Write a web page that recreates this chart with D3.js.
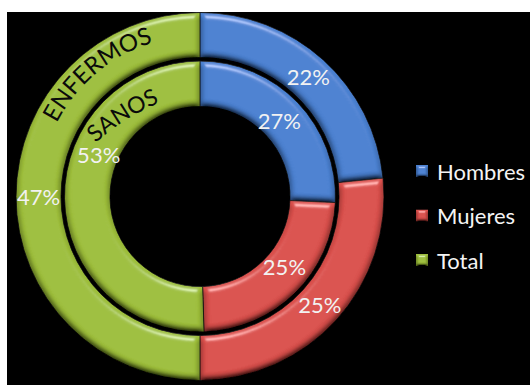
<!DOCTYPE html>
<html>
<head>
<meta charset="utf-8">
<script src="https://cdn.jsdelivr.net/npm/d3@7"></script>
<style>
  html, body { margin: 0; padding: 0; background: #fff; }
  svg { display: block; }
</style>
</head>
<body>
<svg id="chart" width="530" height="385"></svg>
<script>
// Categories and the two rings (outer: ENFERMOS, inner: SANOS)
const categories = ["Hombres", "Mujeres", "Total"];
const enfermos = [22, 25, 47];
const sanos = [27, 25, 53];
const ringNames = ["ENFERMOS", "SANOS"];
const colors = ["#4a80d0", "#d94f4b", "#9dbe3a"];

const W = 530, H = 385;
const cx = 200, cy = 196.5;
const font = "Lato, 'Open Sans', sans-serif";

const svg = d3.select("#chart");

// Bevel lighting (light from above) for the ring segments and legend keys
const defs = svg.append("defs");
function bevel(id, blur, scale) {
  const f = defs.append("filter").attr("id", id)
    .attr("x", "-10%").attr("y", "-10%").attr("width", "120%").attr("height", "120%");
  f.append("feGaussianBlur").attr("in", "SourceAlpha").attr("stdDeviation", blur).attr("result", "blur");
  const diff = f.append("feDiffuseLighting").attr("in", "blur")
    .attr("surfaceScale", scale).attr("diffuseConstant", 1 / Math.sin(55 * Math.PI / 180))
    .attr("lighting-color", "#ffffff").attr("result", "diff");
  diff.append("feDistantLight").attr("azimuth", 270).attr("elevation", 55);
  const spec = f.append("feSpecularLighting").attr("in", "blur")
    .attr("surfaceScale", scale).attr("specularConstant", 0.8).attr("specularExponent", 30)
    .attr("lighting-color", "#ffffff").attr("result", "spec");
  spec.append("feDistantLight").attr("azimuth", 270).attr("elevation", 35);
  f.append("feComposite").attr("in", "SourceGraphic").attr("in2", "diff")
    .attr("operator", "arithmetic").attr("k1", 1).attr("k2", 0).attr("k3", 0).attr("k4", 0).attr("result", "shaded");
  f.append("feComposite").attr("in", "shaded").attr("in2", "spec")
    .attr("operator", "arithmetic").attr("k1", 0).attr("k2", 1).attr("k3", 0.45).attr("k4", 0).attr("result", "lit");
  f.append("feComposite").attr("in", "lit").attr("in2", "SourceAlpha").attr("operator", "in");
}
bevel("bevel", 3, 5.5);
bevel("bevelKey", 1.5, 3);

// Black panel
svg.append("rect").attr("x", 7).attr("y", 12).attr("width", W - 7).attr("height", H - 12).attr("fill", "#000");

const g = svg.append("g").attr("transform", `translate(${cx},${cy})`);

const pie = d3.pie().sort(null).value(d => d);
const rings = [
  { name: ringNames[0], values: enfermos, inner: 139, outer: 184 },
  { name: ringNames[1], values: sanos, inner: 90, outer: 135.5 }
];

// Label angle adjustment (radians) on the inner ring, keeping values clear of the ring title
const labelShift = { 1: { 2: 0.41, 1: -0.1 } };

rings.forEach((ring, ri) => {
  const arc = d3.arc().innerRadius(ring.inner).outerRadius(ring.outer);
  const arcs = pie(ring.values);
  g.append("g").selectAll("path")
    .data(arcs).join("path")
    .attr("d", arc)
    .attr("fill", (d, i) => colors[i])
    .attr("stroke", "#111").attr("stroke-width", 0.8)
    .attr("filter", "url(#bevel)");

  const mid = (ring.inner + ring.outer) / 2 - (ri === 1 ? 3 : 0);
  g.append("g").selectAll("text")
    .data(arcs).join("text")
    .attr("transform", (d, i) => {
      const shift = (labelShift[ri] && labelShift[ri][i]) || 0;
      const a = (d.startAngle + d.endAngle) / 2 + shift;
      return `translate(${mid * Math.sin(a)},${-mid * Math.cos(a)})`;
    })
    .attr("text-anchor", "middle")
    .attr("dominant-baseline", "central")
    .attr("font-family", font)
    .attr("font-size", 22)
    .attr("fill", "#f2f2f2")
    .text(d => d.data + "%");
});

// Ring titles, set along the rings
const deg = Math.PI / 180;
function arcPath(r, a0, a1) {
  return `M${r * Math.sin(a0)},${-r * Math.cos(a0)} A${r},${r} 0 0 1 ${r * Math.sin(a1)},${-r * Math.cos(a1)}`;
}
defs.append("path").attr("id", "titleOuter").attr("d", arcPath(161, 280 * deg, 360 * deg));
defs.append("path").attr("id", "titleInner").attr("d", `M${88 - cx},${151 - cy} Q${116 - cx},${120 - cy} ${170 - cx},${98 - cy}`);

[["titleOuter", ringNames[0], 24], ["titleInner", ringNames[1], 23]].forEach(([id, name, size]) => {
  g.append("text")
    .attr("font-family", font)
    .attr("font-size", size)
    .attr("fill", "#0a0a0a")
    .append("textPath")
    .attr("href", "#" + id)
    .attr("startOffset", "50%")
    .attr("text-anchor", "middle")
    .text(name);
});

// Legend
const legend = svg.append("g").attr("transform", "translate(416,165)");
const item = legend.selectAll("g").data(categories).join("g")
  .attr("transform", (d, i) => `translate(0,${i * 44.5})`);
item.append("rect").attr("width", 12).attr("height", 12)
  .attr("fill", (d, i) => colors[i]).attr("filter", "url(#bevelKey)");
item.append("text").attr("x", 21).attr("y", 6)
  .attr("dominant-baseline", "central")
  .attr("font-family", font).attr("font-size", 22)
  .attr("fill", "#f4f4f4")
  .text(d => d);
</script>
</body>
</html>
